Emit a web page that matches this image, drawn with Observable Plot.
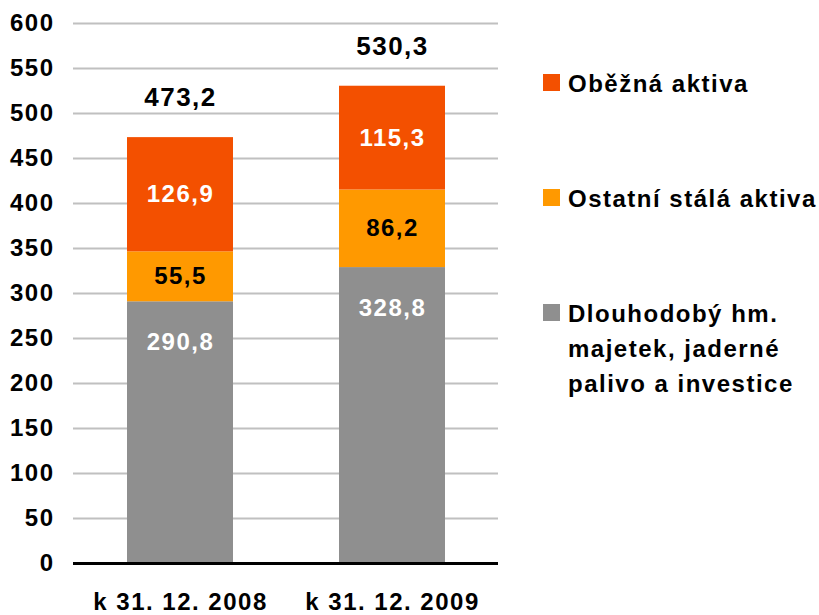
<!DOCTYPE html>
<html>
<head>
<meta charset="utf-8">
<script src="https://cdn.jsdelivr.net/npm/d3@7"></script>
<script src="https://cdn.jsdelivr.net/npm/@observablehq/plot@0.6"></script>
<style>
  html, body { margin: 0; padding: 0; background: #fff; }
  #wrap { position: relative; width: 819px; height: 615px; font-family: "Liberation Sans", Arial, sans-serif; }
  .legend-item { position: absolute; left: 543px; display: flex; align-items: flex-start;
    font-size: 24px; font-weight: bold; letter-spacing: 1.5px; line-height: 35px; color: #000; white-space: pre-line; }
  .legend-item .sw { width: 17px; height: 17px; margin-top: 8.5px; margin-right: 8px; flex: none; }
</style>
</head>
<body>
<div id="wrap"></div>
<script>
const categories = ["k 31. 12. 2008", "k 31. 12. 2009"];
const seriesNames = ["Dlouhodobý hm.\nmajetek, jaderné\npalivo a investice", "Ostatní stálá aktiva", "Oběžná aktiva"];
const seriesColors = ["#8F8F8F", "#FF9900", "#F35000"];
const labelColors = ["#FFFFFF", "#000000", "#FFFFFF"];
const dlouhodoby = [290.8, 328.8];
const ostatni = [55.5, 86.2];
const obezna = [126.9, 115.3];
const totals = [473.2, 530.3];
const yTicks = [0, 50, 100, 150, 200, 250, 300, 350, 400, 450, 500, 550, 600];

const seriesValues = [dlouhodoby, ostatni, obezna];
const fmt = v => v.toFixed(1).replace(".", ",");

// build stacked rows
const rows = [];
categories.forEach((c, i) => {
  let base = 0;
  seriesValues.forEach((vals, s) => {
    const v = vals[i];
    rows.push({cat: c, s, value: v, y1: base, y2: base + v, mid: base + v / 2});
    base += v;
  });
});
const totalRows = categories.map((c, i) => ({cat: c, value: totals[i]}));

const chart = Plot.plot({
  width: 819,
  height: 615,
  marginLeft: 73,
  marginRight: 321,
  marginTop: 23,
  marginBottom: 52,
  style: {fontFamily: "'Liberation Sans', Arial, sans-serif", fontWeight: "bold", fontSize: "24px", letterSpacing: "1.5px", color: "#000", background: "#fff"},
  x: {type: "band", domain: categories, paddingInner: 0.5, paddingOuter: 0.25, label: null},
  y: {domain: [0, 600], label: null},
  marks: [
    Plot.ruleY(yTicks.filter(d => d > 0), {stroke: "#C0C0C0", strokeWidth: 2}),
    Plot.barY(rows, {x: "cat", y1: "y1", y2: "y2", fill: d => seriesColors[d.s]}),
    Plot.ruleY([0], {stroke: "#000", strokeWidth: 3}),
    Plot.axisY({ticks: yTicks, tickSize: 0, tickPadding: 19, tickFormat: d => String(d), fontSize: 24, label: null}),
    Plot.axisX({tickSize: 0, tickPadding: 29, fontSize: 24, label: null}),
    // segment labels: middle for upper segments, near top for the base segment
    Plot.text(rows.filter(d => d.s > 0), {x: "cat", y: "mid", text: d => fmt(d.value), fill: d => labelColors[d.s], fontSize: 24, fontWeight: "bold"}),
    Plot.text(rows.filter(d => d.s === 0), {x: "cat", y: "y2", dy: 41, text: d => fmt(d.value), fill: d => labelColors[d.s], fontSize: 24, fontWeight: "bold"}),
    Plot.text(totalRows, {x: "cat", y: "value", dy: -40, text: d => fmt(d.value), fill: "#000", fontSize: 26, fontWeight: "bold"})
  ]
});

const wrap = document.getElementById("wrap");
wrap.appendChild(chart);

// legend (top to bottom: Oběžná, Ostatní, Dlouhodobý)
const legendTops = [65.5, 180.5, 295.5];
[2, 1, 0].forEach((s, k) => {
  const item = document.createElement("div");
  item.className = "legend-item";
  item.style.top = legendTops[k] + "px";
  const sw = document.createElement("span");
  sw.className = "sw";
  sw.style.background = seriesColors[s];
  const txt = document.createElement("span");
  txt.textContent = seriesNames[s];
  item.appendChild(sw);
  item.appendChild(txt);
  wrap.appendChild(item);
});
chart.style.position = "absolute";
chart.style.left = "0";
chart.style.top = "0";
</script>
</body>
</html>
